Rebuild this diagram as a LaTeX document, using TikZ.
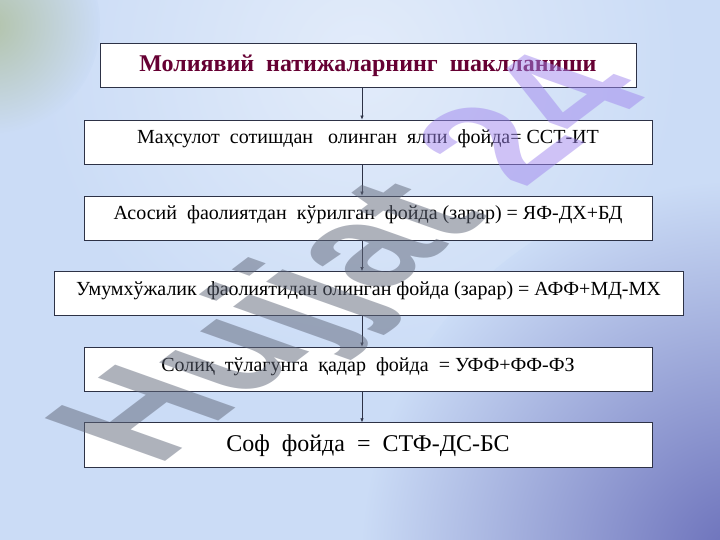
\documentclass[tikz,border=0pt]{standalone}
\usepackage{fontspec}
\setmainfont{Liberation Serif}
\newfontfamily\markfont{Liberation Sans}
\usetikzlibrary{positioning,arrows.meta}
\definecolor{slidebg}{RGB}{203,220,246}
\definecolor{titlered}{RGB}{102,0,51}
\definecolor{boxline}{RGB}{45,50,70}
\definecolor{markgray}{RGB}{95,102,120}
\definecolor{markpurple}{RGB}{160,135,238}

\begin{document}
\begin{tikzpicture}[x=1pt,y=-1pt,
    stage/.style={draw=boxline, line width=0.8pt, fill=white, inner sep=0pt,
        minimum width=568pt, text height=24pt, text depth=20pt,
        font=\fontsize{20}{22}\selectfont},
    big/.style={text height=28.5pt, text depth=16pt,
        font=\fontsize{24}{26}\selectfont},
    link/.style={draw=boxline, line width=0.6pt, -{Latex[length=4pt,width=3.5pt]}}]
    \useasboundingbox (0,0) rectangle (720,540);

    % Background
    \begin{scope}
        \clip (0,0) rectangle (720,540);
        \fill[slidebg] (0,0) rectangle (720,540);
        \shade[inner color=white!45!slidebg, outer color=slidebg] (360,60) circle (320);
        \shade[inner color={rgb,255:red,178;green,195;blue,170}, outer color=slidebg] (-10,25) circle (110);
        \shade[inner color={rgb,255:red,105;green,110;blue,185}, outer color=slidebg] (740,560) circle (380);
    \end{scope}

    % Boxes
    \node[stage, big, minimum width=536pt, text=titlered,
        font=\fontsize{24}{26}\selectfont\bfseries] (title) at (368,65.5)
        {Молиявий~ натижаларнинг~ шаклланиши};
    \node[stage] (gross) at (368,142)
        {Маҳсулот~ сотишдан~~ олинган~ ялпи~ фойда= ССТ-ИТ};
    \node[stage] (core) at (368,218)
        {Асосий~ фаолиятдан~ кўрилган~ фойда (зарар) = ЯФ-ДХ+БД};
    \node[stage, minimum width=629pt] (general) at (368.5,293.5)
        {Умумхўжалик~ фаолиятидан олинган фойда (зарар) = АФФ+МД-МХ};
    \node[stage] (pretax) at (368,369)
        {Солиқ~ тўлагунга~ қадар~ фойда~ = УФФ+ФФ-ФЗ};
    \node[stage, big] (net) at (368,445)
        {Соф~ фойда~ =~ СТФ-ДС-БС};

    % Arrows
    \coordinate (axis) at (362,0);
    \draw[link] (title.south -| axis) -- (gross.north -| axis);
    \draw[link] (gross.south -| axis) -- (core.north -| axis);
    \draw[link] (core.south -| axis) -- (general.north -| axis);
    \draw[link] (general.south -| axis) -- (pretax.north -| axis);
    \draw[link] (pretax.south -| axis) -- (net.north -| axis);

    % Watermark
    \begin{scope}[shift={(362,262)}, yscale=0.52]
        \node[transform shape, rotate=55.6, inner sep=0pt, opacity=0.5,
            font=\markfont\bfseries\fontsize{212}{212}\selectfont] (mark)
            {\textcolor{markgray}{Hujjat} \textcolor{markpurple}{24}};
    \end{scope}
\end{tikzpicture}
\end{document}
